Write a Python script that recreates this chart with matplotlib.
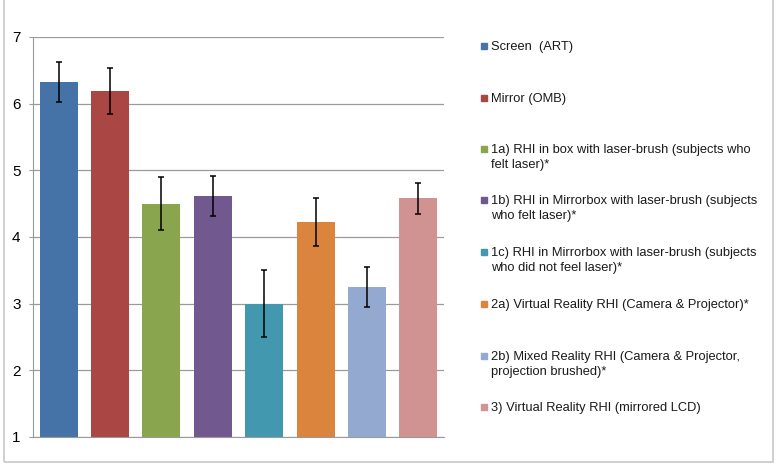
import matplotlib.pyplot as plt
from matplotlib.patches import Rectangle

plt.rcParams['font.family'] = ['Liberation Sans', 'DejaVu Sans']

labels = [
    "Screen  (ART)",
    "Mirror (OMB)",
    "1a) RHI in box with laser-brush (subjects who\nfelt laser)*",
    "1b) RHI in Mirrorbox with laser-brush (subjects\nwho felt laser)*",
    "1c) RHI in Mirrorbox with laser-brush (subjects\nwho did not feel laser)*",
    "2a) Virtual Reality RHI (Camera & Projector)*",
    "2b) Mixed Reality RHI (Camera & Projector,\nprojection brushed)*",
    "3) Virtual Reality RHI (mirrored LCD)",
]
means = [6.33, 6.19, 4.50, 4.62, 3.00, 4.22, 3.25, 4.58]
errors = [0.30, 0.35, 0.40, 0.30, 0.50, 0.36, 0.30, 0.23]
colors = ["#4572A7", "#AA4643", "#89A54E", "#71588F",
          "#4198AF", "#DB843D", "#93A9CF", "#D19392"]

fig = plt.figure(figsize=(7.78, 4.67), dpi=100)
ax = fig.add_axes([33 / 778, 1 - 437 / 467, 411 / 778, 400 / 467])

x = range(len(means))
ax.bar(x, [m - 1 for m in means], bottom=1, width=0.74, color=colors, zorder=2)
ax.errorbar(x, means, yerr=errors, fmt="none", ecolor="black",
            elinewidth=1.1, capsize=2.5, capthick=1.1, zorder=3)

ax.set_ylim(1, 7)
ax.set_xlim(-0.5, len(means) - 0.5)
ax.set_yticks(range(1, 8))
ax.set_xticks([])
ax.yaxis.grid(True, color="#9a9a9a", linewidth=0.9, zorder=0)
ax.set_axisbelow(True)
for s in ["top", "right"]:
    ax.spines[s].set_visible(False)
ax.spines["left"].set_color("#9a9a9a")
ax.spines["bottom"].set_color("#9a9a9a")
ax.tick_params(axis="y", length=3, color="#9a9a9a", labelsize=11, pad=6)

# legend drawn by hand to keep the uneven spacing of the original
legend_y = [46, 98, 149, 200, 252, 304, 356, 407]
for lab, col, y in zip(labels, colors, legend_y):
    fig.patches.append(Rectangle((481 / 778, 1 - (y + 3) / 467), 6 / 778, 6 / 467,
                                 transform=fig.transFigure, color=col))
    fig.text(491 / 778, 1 - (y - 5) / 467, lab, fontsize=9.3, va="top",
             ha="left", linespacing=1.32, color="#1a1a1a")

# outer chart border
fig.patches.append(Rectangle((4 / 778, 1 - 462 / 467), 769 / 778, 470 / 467,
                             transform=fig.transFigure, fill=False,
                             edgecolor="#c8c8c8", linewidth=1.2))

fig.savefig("out.png", dpi=100)
